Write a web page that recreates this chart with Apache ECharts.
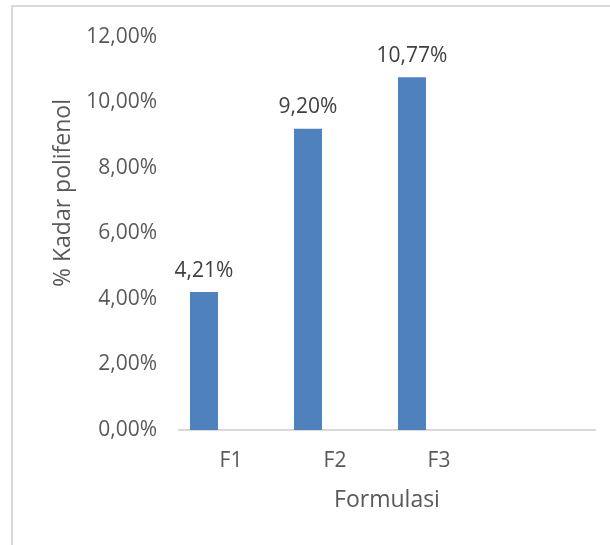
<!DOCTYPE html>
<html>
<head>
<meta charset="utf-8">
<script src="https://cdn.jsdelivr.net/npm/echarts@6/dist/echarts.min.js"></script>
<style>html,body{margin:0;padding:0;background:#fff;}#c{width:610px;height:545px;}</style>
</head>
<body>
<div id="c"></div>
<script>
var categories = ['F1', 'F2', 'F3', ''];
var values = [4.21, 9.20, 10.77];
var emptySeries = [null, null, null, null];
var yMin = 0, yMax = 12, yStep = 2;
var yTitle = '% Kadar polifenol';
var xTitle = 'Formulasi';

function pct(v) { return v.toFixed(2).replace('.', ',') + '%'; }

var chart = echarts.init(document.getElementById('c'));
var font = '"Open Sans", sans-serif';
chart.setOption({
  animation: false,
  backgroundColor: '#fff',
  grid: { left: 179, right: 15, top: 37, bottom: 115 },
  graphic: [
    { type: 'rect', shape: { x: 12, y: 6, width: 620, height: 570 }, style: { fill: 'none', stroke: '#D9D9D9', lineWidth: 2 }, silent: true },
    { type: 'text', x: 63, y: 193, rotation: Math.PI / 2, style: { text: yTitle, fill: '#595959', font: '23px "Open Sans", sans-serif', textAlign: 'center', textVerticalAlign: 'middle' } }
  ],
  xAxis: {
    type: 'category',
    data: categories,
    name: xTitle,
    nameLocation: 'middle',
    nameGap: 59,
    nameTextStyle: { color: '#595959', fontSize: 23, fontFamily: font },
    axisLine: { lineStyle: { color: '#D9D9D9', width: 2 } },
    axisTick: { show: false },
    axisLabel: { color: '#595959', fontSize: 21, fontFamily: font, margin: 21 }
  },
  yAxis: {
    type: 'value',
    min: yMin, max: yMax, interval: yStep,
    axisLine: { show: false },
    axisTick: { show: false },
    splitLine: { show: false },
    axisLabel: { color: '#595959', fontSize: 21, fontFamily: font, margin: 22, formatter: function (v) { return pct(v); } }
  },
  series: [
    {
      type: 'bar',
      data: values,
      barWidth: 28,
      barGap: '93%',
      itemStyle: { color: '#4F81BD' },
      label: { show: true, position: 'top', distance: 11, color: '#404040', fontSize: 21, fontFamily: font, formatter: function (p) { return pct(p.value); } }
    },
    {
      type: 'bar',
      data: emptySeries,
      barWidth: 28,
      itemStyle: { color: '#C0504D' }
    }
  ]
});
</script>
</body>
</html>
